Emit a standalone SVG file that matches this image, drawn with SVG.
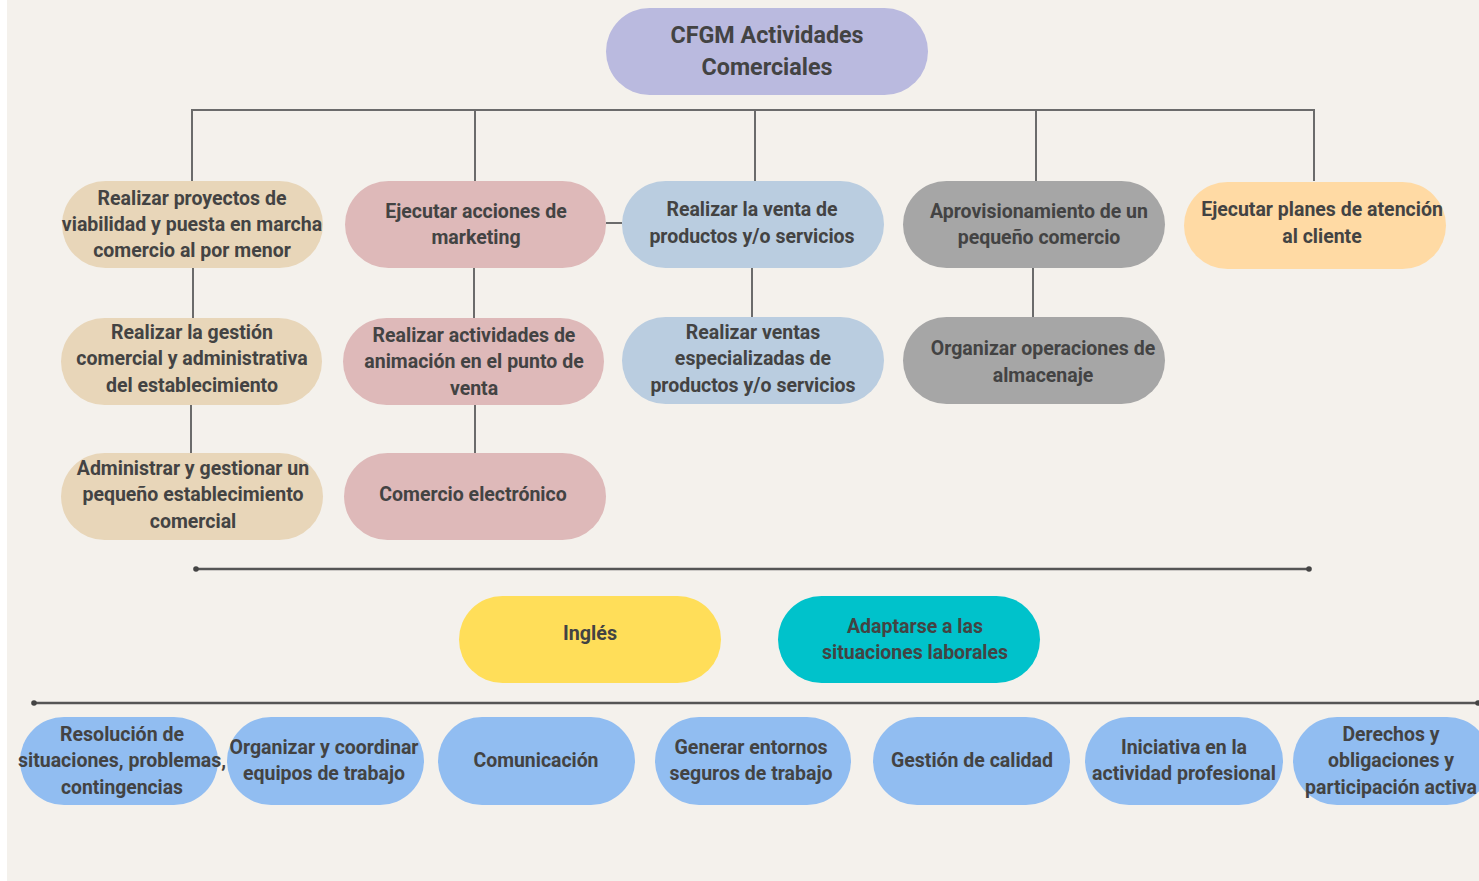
<svg xmlns="http://www.w3.org/2000/svg" width="1479" height="881" viewBox="0 0 1479 881">
<style>
text{font-family:Roboto,"Liberation Sans",sans-serif;font-weight:700;fill:#434343;text-anchor:middle;font-size:19.5px}
.t{font-size:23.3px}
.c{stroke:#6b6b6b;stroke-width:2;fill:none}
.h{stroke:#555;stroke-width:2.5;fill:none}
.dot{fill:#444}
.beige{fill:#e8d6b9}
.pink{fill:#deb9b9}
.lblue{fill:#bacde0}
.gray{fill:#a6a6a6}
.orange{fill:#ffdaa4}
.purple{fill:#babadf}
.yellow{fill:#ffde59}
.teal{fill:#00c2cb}
.blue{fill:#91bdf1}
</style>
<rect x="0" y="0" width="1479" height="881" fill="#f4f1ec"/>
<rect x="0" y="0" width="7" height="881" fill="#ffffff"/>
<g id="connectors">
<path class="c" d="M192 181V110H1314V181M475 110V181M755 110V181M1036 110V181"/>
<path class="c" d="M606 223H622"/>
<path class="c" d="M193 267V318M474 267V318M752 267V318M1033 267V318"/>
<path class="c" d="M191 404V453M475 404V453"/>
<path class="h" d="M196 569H1309"/>
<circle class="dot" cx="196" cy="569" r="2.8"/>
<circle class="dot" cx="1309" cy="569" r="2.8"/>
<path class="h" d="M34 703H1479"/>
<circle class="dot" cx="34" cy="703" r="2.8"/>
<circle class="dot" cx="1478" cy="703" r="2.8"/>
</g>
<g id="title"><rect class="purple" x="606" y="8" width="322" height="87" rx="43.5"/><text class="t" x="767" y="43">CFGM Actividades</text><text class="t" x="767" y="75">Comerciales</text></g>
<g id="n-proyectos"><rect class="beige" x="62" y="181" width="261" height="87" rx="43.5"/><text x="192" y="205">Realizar proyectos de</text><text x="192" y="231">viabilidad y puesta en marcha</text><text x="192" y="257">comercio al por menor</text></g>
<g id="n-marketing"><rect class="pink" x="345" y="181" width="261" height="87" rx="43.5"/><text x="476" y="218">Ejecutar acciones de</text><text x="476" y="244">marketing</text></g>
<g id="n-venta"><rect class="lblue" x="622" y="181" width="262" height="87" rx="43.5"/><text x="752" y="216">Realizar la venta de</text><text x="752" y="243">productos y/o servicios</text></g>
<g id="n-aprov"><rect class="gray" x="903" y="181" width="262" height="87" rx="43.5"/><text x="1039" y="218">Aprovisionamiento de un</text><text x="1039" y="244">pequeño comercio</text></g>
<g id="n-atencion"><rect class="orange" x="1184" y="182" width="262" height="87" rx="43.5"/><text x="1322" y="216">Ejecutar planes de atención</text><text x="1322" y="243">al cliente</text></g>
<g id="n-gestion"><rect class="beige" x="61" y="318" width="261" height="87" rx="43.5"/><text x="192" y="339">Realizar la gestión</text><text x="192" y="365">comercial y administrativa</text><text x="192" y="392">del establecimiento</text></g>
<g id="n-animacion"><rect class="pink" x="343" y="318" width="261" height="87" rx="43.5"/><text x="474" y="342">Realizar actividades de</text><text x="474" y="368">animación en el punto de</text><text x="474" y="395">venta</text></g>
<g id="n-ventas-esp"><rect class="lblue" x="622" y="317" width="262" height="87" rx="43.5"/><text x="753" y="339">Realizar ventas</text><text x="753" y="365">especializadas de</text><text x="753" y="392">productos y/o servicios</text></g>
<g id="n-almacenaje"><rect class="gray" x="903" y="317" width="262" height="87" rx="43.5"/><text x="1043" y="355">Organizar operaciones de</text><text x="1043" y="382">almacenaje</text></g>
<g id="n-administrar"><rect class="beige" x="61" y="453" width="262" height="87" rx="43.5"/><text x="193" y="475">Administrar y gestionar un</text><text x="193" y="501">pequeño establecimiento</text><text x="193" y="528">comercial</text></g>
<g id="n-electronico"><rect class="pink" x="344" y="453" width="262" height="87" rx="43.5"/><text x="473" y="501">Comercio electrónico</text></g>
<g id="n-ingles"><rect class="yellow" x="459" y="596" width="262" height="87" rx="43.5"/><text x="590" y="640" textLength="54" lengthAdjust="spacingAndGlyphs">Inglés</text></g>
<g id="n-adaptarse"><rect class="teal" x="778" y="596" width="262" height="87" rx="43.5"/><text x="915" y="633" textLength="136" lengthAdjust="spacingAndGlyphs">Adaptarse a las</text><text x="915" y="659" textLength="186" lengthAdjust="spacingAndGlyphs">situaciones laborales</text></g>
<g id="n-resolucion"><rect class="blue" x="20" y="717" width="198" height="88" rx="44"/><text x="122" y="741" textLength="124" lengthAdjust="spacingAndGlyphs">Resolución de</text><text x="122" y="767" textLength="208" lengthAdjust="spacingAndGlyphs">situaciones, problemas,</text><text x="122" y="794" textLength="122" lengthAdjust="spacingAndGlyphs">contingencias</text></g>
<g id="n-equipos"><rect class="blue" x="227" y="717" width="197" height="88" rx="44"/><text x="324" y="754" textLength="189" lengthAdjust="spacingAndGlyphs">Organizar y coordinar</text><text x="324" y="780" textLength="162" lengthAdjust="spacingAndGlyphs">equipos de trabajo</text></g>
<g id="n-comunicacion"><rect class="blue" x="438" y="717" width="197" height="88" rx="44"/><text x="536" y="767" textLength="125" lengthAdjust="spacingAndGlyphs">Comunicación</text></g>
<g id="n-entornos"><rect class="blue" x="655" y="717" width="196" height="88" rx="44"/><text x="751" y="754" textLength="153" lengthAdjust="spacingAndGlyphs">Generar entornos</text><text x="751" y="780" textLength="163" lengthAdjust="spacingAndGlyphs">seguros de trabajo</text></g>
<g id="n-calidad"><rect class="blue" x="873" y="717" width="197" height="88" rx="44"/><text x="972" y="767" textLength="162" lengthAdjust="spacingAndGlyphs">Gestión de calidad</text></g>
<g id="n-iniciativa"><rect class="blue" x="1085" y="717" width="198" height="88" rx="44"/><text x="1184" y="754" textLength="126" lengthAdjust="spacingAndGlyphs">Iniciativa en la</text><text x="1184" y="780" textLength="184" lengthAdjust="spacingAndGlyphs">actividad profesional</text></g>
<g id="n-derechos"><rect class="blue" x="1293" y="717" width="198" height="88" rx="44"/><text x="1391" y="741" textLength="97" lengthAdjust="spacingAndGlyphs">Derechos y</text><text x="1391" y="767" textLength="126" lengthAdjust="spacingAndGlyphs">obligaciones y</text><text x="1391" y="794" textLength="172" lengthAdjust="spacingAndGlyphs">participación activa</text></g>
</svg>
